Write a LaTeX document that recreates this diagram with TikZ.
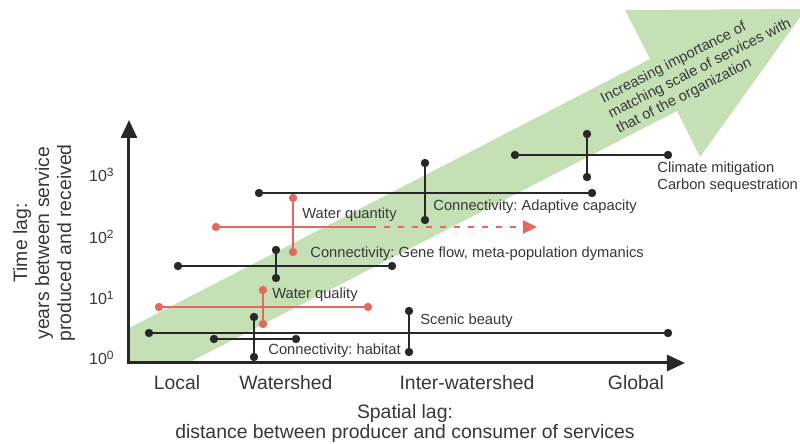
\documentclass[tikz,border=0pt]{standalone}
\usepackage{fontspec}
\setmainfont{Liberation Sans}
\usetikzlibrary{arrows.meta}

\definecolor{bandgreen}{RGB}{198,224,182}
\definecolor{lagred}{RGB}{229,104,95}
\definecolor{lagblack}{RGB}{40,40,40}
\definecolor{labelgray}{RGB}{55,55,55}

\tikzset{
    bar/.style={line width=1.2pt, draw=lagblack},
    redbar/.style={line width=1.2pt, draw=lagred},
    axis/.style={line width=1.5pt, draw=lagblack, {Triangle[width=8pt,length=9pt]}-{Triangle[width=8pt,length=9pt]}},
    lbl/.style={font=\fontsize{7.35}{8.6}\selectfont\frenchspacing, text=labelgray, inner sep=0pt},
    axislbl/.style={font=\fontsize{9.7}{10}\selectfont, text=labelgray, inner sep=0pt},
    ticklbl/.style={font=\fontsize{8}{9}\selectfont, text=labelgray, inner sep=0pt, anchor=east}
}

\begin{document}
\begin{tikzpicture}[x=0.5pt,y=0.5pt]
    \useasboundingbox (-129,-81) rectangle (671,363);

    % Green band ending in a wide arrow head (cut by the page edge)
    \begin{scope}
        \clip (-129,-81) rectangle (671,363);
        \fill[bandgreen] (0,35) -- (521,304) -- (496,353) -- (677,354)
            -- (571,206) -- (548,252) -- (59,0) -- (0,0) -- cycle;
    \end{scope}
    \node[lbl, rotate=27, align=left] (trend) at (571,294)
        {Increasing importance of\\matching scale of services with\\that of the organization};

    % Axes
    \coordinate (O) at (0,0);
    \coordinate (ytop) at (0,243);
    \coordinate (xend) at (556,0);
    \draw[axis] (ytop) -- (O) -- (xend);

    % Ticks on the time axis
    \node[ticklbl] (t3) at (-14,188) {10\textsuperscript{3}};
    \node[ticklbl] (t2) at (-14,126) {10\textsuperscript{2}};
    \node[ticklbl] (t1) at (-14,65) {10\textsuperscript{1}};
    \node[ticklbl] (t0) at (-14,5) {10\textsuperscript{0}};

    % Ticks on the spatial axis
    \node[axislbl] (local) at (48,-20) {Local};
    \node[axislbl] (watershed) at (157,-20) {Watershed};
    \node[axislbl] (inter) at (338,-20) {Inter-watershed};
    \node[axislbl] (global) at (507,-20) {Global};

    % Axis titles
    \node[axislbl, align=center] (xtitle) at (276,-60)
        {Spatial lag:\\distance between producer and consumer of services};
    \node[axislbl, align=center, rotate=90, font=\fontsize{9.7}{11}\selectfont] (ytitle) at (-85,120)
        {Time lag:\\years between service\\produced and received};

    % Climate mitigation / carbon sequestration
    \coordinate (clL) at (386,208);
    \coordinate (clR) at (539,208);
    \coordinate (clT) at (458,229);
    \coordinate (clB) at (458,186);
    \draw[bar] (clL) -- (clR);
    \draw[bar] (clT) -- (clB);
    \node[lbl, anchor=north west, align=left] (cllbl) at (528,202)
        {Climate mitigation\\Carbon sequestration};

    % Connectivity: adaptive capacity
    \coordinate (adL) at (130,170);
    \coordinate (adR) at (463,170);
    \coordinate (adT) at (296,200);
    \coordinate (adB) at (296,143);
    \draw[bar] (adL) -- (adR);
    \draw[bar] (adT) -- (adB);
    \node[lbl, anchor=west] (adlbl) at (304,156) {Connectivity: Adaptive capacity};

    % Water quantity (range goes on, dashed)
    \coordinate (qnL) at (87,136);
    \coordinate (qnM) at (241,136);
    \coordinate (qnR) at (408,136);
    \coordinate (qnT) at (164,165);
    \coordinate (qnB) at (164,111);
    \draw[redbar] (qnL) -- (qnM);
    \draw[redbar, dash pattern=on 3pt off 4pt, -{Triangle[width=6.5pt,length=7pt]}] (qnM) -- (qnR);
    \draw[redbar] (qnT) -- (qnB);
    \node[lbl, anchor=west] (qnlbl) at (173,148) {Water quantity};

    % Connectivity: gene flow
    \coordinate (geL) at (49,97);
    \coordinate (geR) at (263,97);
    \coordinate (geT) at (147,113);
    \coordinate (geB) at (147,85);
    \draw[bar] (geL) -- (geR);
    \draw[bar] (geT) -- (geB);
    \node[lbl, anchor=west] (gelbl) at (181,109) {Connectivity: Gene flow, meta-population dymanics};

    % Water quality
    \coordinate (qlL) at (30,56);
    \coordinate (qlR) at (239,56);
    \coordinate (qlT) at (134,73);
    \coordinate (qlB) at (134,39);
    \draw[redbar] (qlL) -- (qlR);
    \draw[redbar] (qlT) -- (qlB);
    \node[lbl, anchor=west] (qllbl) at (143,68) {Water quality};

    % Scenic beauty
    \coordinate (scL) at (20,30);
    \coordinate (scR) at (539,30);
    \coordinate (scT) at (280,52);
    \coordinate (scB) at (280,11);
    \draw[bar] (scL) -- (scR);
    \draw[bar] (scT) -- (scB);
    \node[lbl, anchor=west] (sclbl) at (291,42) {Scenic beauty};

    % Connectivity: habitat
    \coordinate (haL) at (85,24);
    \coordinate (haR) at (167,24);
    \coordinate (haT) at (125,46);
    \coordinate (haB) at (125,6);
    \draw[bar] (haL) -- (haR);
    \draw[bar] (haT) -- (haB);
    \node[lbl, anchor=west] (halbl) at (139,12) {Connectivity: habitat};

    % End dots
    \foreach \p in {clL,clR,clT,clB,adL,adR,adT,adB,geL,geR,geT,geB,scL,scR,scT,scB,haL,haR,haT,haB}
        \fill[lagblack] (\p) circle (2.1pt);
    \foreach \p in {qnL,qnT,qnB,qlL,qlR,qlT,qlB}
        \fill[lagred] (\p) circle (2.1pt);

\end{tikzpicture}
\end{document}
